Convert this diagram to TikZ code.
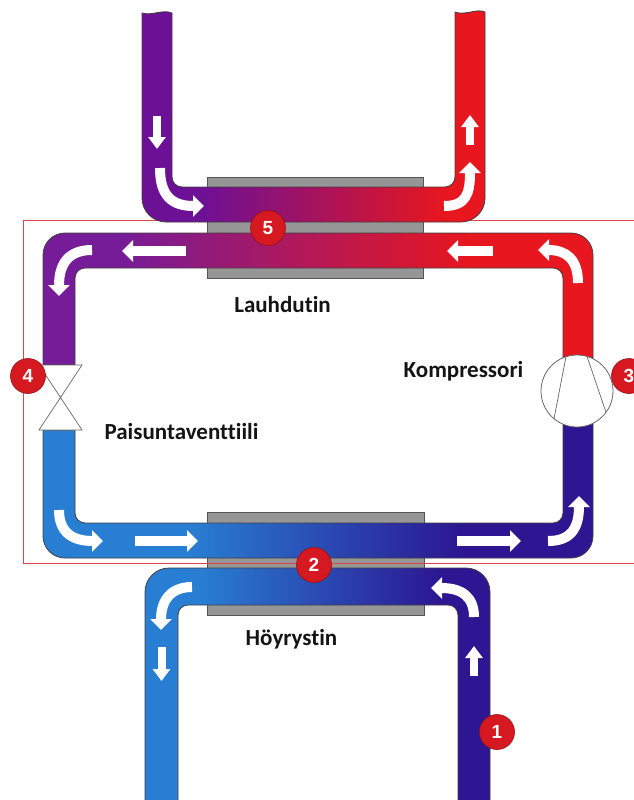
\documentclass[tikz,border=0pt]{standalone}
\usepackage{fontspec}
\setmainfont[Ligatures=NoCommon]{Carlito}
\newfontfamily\badgefont{Liberation Sans}
\usetikzlibrary{arrows.meta}

% refrigerant and heat-carrier colours
\definecolor{purpU}{RGB}{108,16,150}
\definecolor{purpM}{RGB}{118,28,152}
\definecolor{hotred}{RGB}{232,22,30}
\definecolor{coldblue}{RGB}{40,126,210}
\definecolor{indigo}{RGB}{44,22,146}
\definecolor{hxgrey}{RGB}{150,150,150}
\definecolor{hxedge}{RGB}{85,85,85}
\definecolor{badgered}{RGB}{214,24,32}
\definecolor{framered}{RGB}{222,70,70}

\begin{document}
\begin{tikzpicture}[x=1pt,y=-1pt,
  pipe/.style={draw=black!75,line width=0.8pt},
  hx/.style={fill=hxgrey,draw=hxedge,line width=0.8pt},
  flow/.style={white,line width=10pt,-{Triangle[width=21pt,length=11pt]}},
  flowsmall/.style={white,line width=8pt,-{Triangle[width=17pt,length=12pt]}},
  badge/.style={circle,fill=badgered,draw=badgered!70!black,line width=0.6pt,
    minimum size=35pt,inner sep=0pt,text=white,
    font=\badgefont\bfseries\fontsize{19}{19}\selectfont},
  label/.style={font=\bfseries\fontsize{23}{23}\selectfont,text=black!92,anchor=base},
  valvepart/.style={fill=white,draw=black!60,line width=0.7pt},
  frame/.style={draw=framered,line width=0.9pt}]

\useasboundingbox (0,0) rectangle (634,800);

% heat exchanger plates
\draw[hx] (207,177) rectangle (423,278);
\draw[hx] (207,512) rectangle (424,615);

% outline of the refrigerant circuit area
\draw[frame] (640,220) -- (23,220) -- (23,563) -- (640,563);

% condenser water loop (top)
\path[pipe,path picture={
    \fill[purpU] (100,0) rectangle (201,300);
    \shade[left color=purpU,right color=hotred] (200,0) rectangle (446,300);
    \fill[hotred] (445,0) rectangle (520,300);}]
  (142,13) -- (142,150) [rounded corners=24pt] -- (142,222) -- (485,222)
  -- (485,150) [sharp corners] -- (485,12)
  .. controls (477,8) and (465,16) .. (455,12)
  -- (455,150) [rounded corners=10pt] -- (455,187) -- (172,187)
  -- (172,150) [sharp corners] -- (172,13)
  .. controls (163,9) and (152,16) .. (142,13) -- cycle;

% refrigerant circuit, hot side
\path[pipe,path picture={
    \fill[purpM] (30,200) rectangle (121,400);
    \shade[left color=purpM,right color=hotred] (120,200) rectangle (471,400);
    \fill[hotred] (470,200) rectangle (610,400);}]
  (43,365) -- (43,300) [rounded corners=22pt] -- (43,233) -- (593,233)
  -- (593,300) [sharp corners] -- (593,375) -- (563,375)
  -- (563,300) [rounded corners=10pt] -- (563,268) -- (75,268)
  -- (75,300) [sharp corners] -- (75,365) -- cycle;

% refrigerant circuit, cold side
\path[pipe,path picture={
    \fill[coldblue] (30,400) rectangle (191,570);
    \shade[left color=coldblue,right color=indigo] (190,400) rectangle (461,570);
    \fill[indigo] (460,400) rectangle (610,570);}]
  (43,430) -- (43,480) [rounded corners=22pt] -- (43,558) -- (593,558)
  -- (593,480) [sharp corners] -- (593,405) -- (563,405)
  -- (563,480) [rounded corners=10pt] -- (563,523) -- (75,523)
  -- (75,480) [sharp corners] -- (75,430) -- cycle;

% evaporator brine loop (bottom)
\path[pipe,path picture={
    \fill[coldblue] (130,550) rectangle (201,810);
    \shade[left color=coldblue,right color=indigo] (200,550) rectangle (441,810);
    \fill[indigo] (440,550) rectangle (500,810);}]
  (145,805) -- (145,620) [rounded corners=24pt] -- (145,568) -- (490,568)
  -- (490,620) [sharp corners] -- (490,805) -- (458,805)
  -- (458,640) [rounded corners=10pt] -- (458,605) -- (178,605)
  -- (178,640) [sharp corners] -- (178,805) -- cycle;

% expansion valve
\fill[white] (41,365.5) rectangle (78,429.5);
\draw[valvepart] (39,365) -- (82,365) -- (60.5,397.5) -- cycle;
\draw[valvepart] (39,430) -- (82,430) -- (60.5,397.5) -- cycle;

% compressor
\node[circle,fill=white,draw=black!60,line width=0.8pt,minimum size=72pt,inner sep=0pt]
  (comp) at (577,391) {};
\draw[black!60,line width=0.7pt] (566,356.7) -- (554,418.7);
\draw[black!60,line width=0.7pt] (587,356.4) -- (606,412.3);

% flow direction arrows, condenser water loop
\draw[flowsmall] (157,116) -- (157,149);
\draw[flow] (160,168) .. controls (160,196) and (172,206) .. (204,206);
\draw[flow] (444,206) .. controls (466,206) and (470,194) .. (470,162);
\draw[flowsmall] (470,145) -- (470,115);

% flow direction arrows, refrigerant circuit
\draw[flow] (186,251) -- (122,251);
\draw[flow] (493,251) -- (447,251);
\draw[flow] (578,283) .. controls (578,259) and (566,250) .. (538,250);
\draw[flow] (92,250) .. controls (70,250) and (59,262) .. (59,296);
\draw[flow] (59,510) .. controls (59,532) and (72,541) .. (103,541);
\draw[flow] (135,541) -- (198,541);
\draw[flow] (457,541) -- (521,541);
\draw[flow] (548,541) .. controls (571,541) and (579,528) .. (579,496);

% flow direction arrows, brine loop
\draw[flow] (192,587) .. controls (171,587) and (161,600) .. (161,630);
\draw[flowsmall] (161.5,647) -- (161.5,681);
\draw[flow] (474,617) .. controls (474,597) and (462,588) .. (431,588);
\draw[flowsmall] (474,676) -- (474,646);

% component labels
\node[label] (lauh) at (282.5,312) {Lauhdutin};
\node[label] (komp) at (463.5,377) {Kompressori};
\node[label] (pais) at (181.5,439) {Paisuntaventtiili};
\node[label] (hoyr) at (291.5,645) {Höyrystin};

% state point markers
\node[badge] (b1) at (497,732) {1};
\node[badge] (b2) at (314,565) {2};
\node[badge] (b3) at (629,376) {3};
\node[badge] (b4) at (28,376) {4};
\node[badge] (b5) at (268,228) {5};
\end{tikzpicture}
\end{document}
